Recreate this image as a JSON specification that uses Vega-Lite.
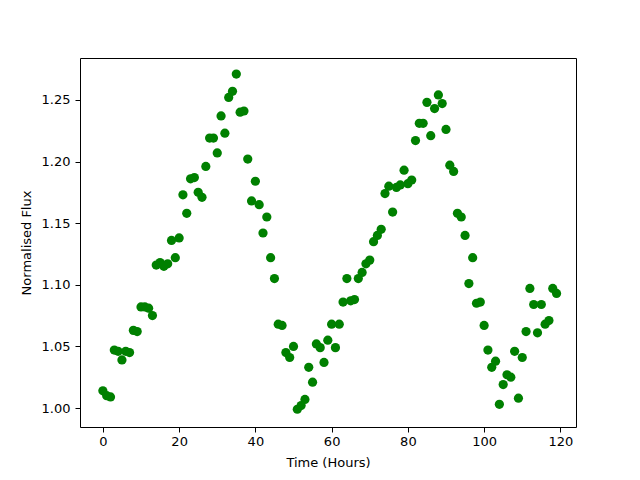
{
  "$schema": "https://vega.github.io/schema/vega-lite/v6.json",
  "width": 496,
  "height": 369,
  "autosize": {"type": "none"},
  "padding": {"left": 80, "top": 58, "right": 64, "bottom": 53},
  "background": "white",
  "config": {
    "view": {"stroke": "black", "strokeWidth": 1},
    "axis": {
      "grid": false,
      "domain": false,
      "tickColor": "black",
      "tickSize": 5,
      "labelFont": "DejaVu Sans",
      "labelFontSize": 13,
      "labelColor": "black",
      "titleFont": "DejaVu Sans",
      "titleFontSize": 13,
      "titleFontWeight": "normal",
      "titleColor": "black"
    }
  },
  "data": {
    "values": [
      {"t":0,"f":1.014},{"t":1,"f":1.010},{"t":2,"f":1.009},{"t":3,"f":1.047},{"t":4,"f":1.046},
      {"t":5,"f":1.039},{"t":6,"f":1.046},{"t":7,"f":1.045},{"t":8,"f":1.063},{"t":9,"f":1.062},
      {"t":10,"f":1.082},{"t":11,"f":1.082},{"t":12,"f":1.081},{"t":13,"f":1.075},{"t":14,"f":1.116},
      {"t":15,"f":1.118},{"t":16,"f":1.115},{"t":17,"f":1.117},{"t":18,"f":1.136},{"t":19,"f":1.122},
      {"t":20,"f":1.138},{"t":21,"f":1.173},{"t":22,"f":1.158},{"t":23,"f":1.186},{"t":24,"f":1.187},
      {"t":25,"f":1.175},{"t":26,"f":1.171},{"t":27,"f":1.196},{"t":28,"f":1.219},{"t":29,"f":1.219},
      {"t":30,"f":1.207},{"t":31,"f":1.237},{"t":32,"f":1.223},{"t":33,"f":1.252},{"t":34,"f":1.257},
      {"t":35,"f":1.271},{"t":36,"f":1.240},{"t":37,"f":1.241},{"t":38,"f":1.202},{"t":39,"f":1.168},
      {"t":40,"f":1.184},{"t":41,"f":1.165},{"t":42,"f":1.142},{"t":43,"f":1.155},{"t":44,"f":1.122},
      {"t":45,"f":1.105},{"t":46,"f":1.068},{"t":47,"f":1.067},{"t":48,"f":1.045},{"t":49,"f":1.041},
      {"t":50,"f":1.050},{"t":51,"f":0.999},{"t":52,"f":1.002},{"t":53,"f":1.007},{"t":54,"f":1.033},
      {"t":55,"f":1.021},{"t":56,"f":1.052},{"t":57,"f":1.049},{"t":58,"f":1.037},{"t":59,"f":1.055},
      {"t":60,"f":1.068},{"t":61,"f":1.049},{"t":62,"f":1.068},{"t":63,"f":1.086},{"t":64,"f":1.105},
      {"t":65,"f":1.087},{"t":66,"f":1.088},{"t":67,"f":1.105},{"t":68,"f":1.110},{"t":69,"f":1.117},
      {"t":70,"f":1.120},{"t":71,"f":1.135},{"t":72,"f":1.140},{"t":73,"f":1.145},{"t":74,"f":1.174},
      {"t":75,"f":1.180},{"t":76,"f":1.159},{"t":77,"f":1.179},{"t":78,"f":1.181},{"t":79,"f":1.193},
      {"t":80,"f":1.182},{"t":81,"f":1.185},{"t":82,"f":1.217},{"t":83,"f":1.231},{"t":84,"f":1.231},
      {"t":85,"f":1.248},{"t":86,"f":1.221},{"t":87,"f":1.243},{"t":88,"f":1.254},{"t":89,"f":1.247},
      {"t":90,"f":1.226},{"t":91,"f":1.197},{"t":92,"f":1.192},{"t":93,"f":1.158},{"t":94,"f":1.155},
      {"t":95,"f":1.140},{"t":96,"f":1.101},{"t":97,"f":1.122},{"t":98,"f":1.085},{"t":99,"f":1.086},
      {"t":100,"f":1.067},{"t":101,"f":1.047},{"t":102,"f":1.033},{"t":103,"f":1.038},{"t":104,"f":1.003},
      {"t":105,"f":1.019},{"t":106,"f":1.027},{"t":107,"f":1.025},{"t":108,"f":1.046},{"t":109,"f":1.008},
      {"t":110,"f":1.041},{"t":111,"f":1.062},{"t":112,"f":1.097},{"t":113,"f":1.084},{"t":114,"f":1.061},
      {"t":115,"f":1.084},{"t":116,"f":1.068},{"t":117,"f":1.071},{"t":118,"f":1.097},{"t":119,"f":1.093}
    ]
  },
  "mark": {"type": "point", "filled": true, "shape": "circle", "size": 85, "color": "#008000", "opacity": 1},
  "encoding": {
    "x": {
      "field": "t", "type": "quantitative",
      "scale": {"domain": [-6.0, 124.1], "nice": false, "zero": false},
      "axis": {"title": "Time (Hours)", "values": [0, 20, 40, 60, 80, 100, 120], "format": "d", "labelPadding": 3, "titlePadding": 8}
    },
    "y": {
      "field": "f", "type": "quantitative",
      "scale": {"domain": [0.9846, 1.284], "nice": false, "zero": false},
      "axis": {"title": "Normalised Flux", "values": [1.0, 1.05, 1.1, 1.15, 1.2, 1.25], "format": ".2f", "labelPadding": 5, "titlePadding": 8}
    }
  }
}
